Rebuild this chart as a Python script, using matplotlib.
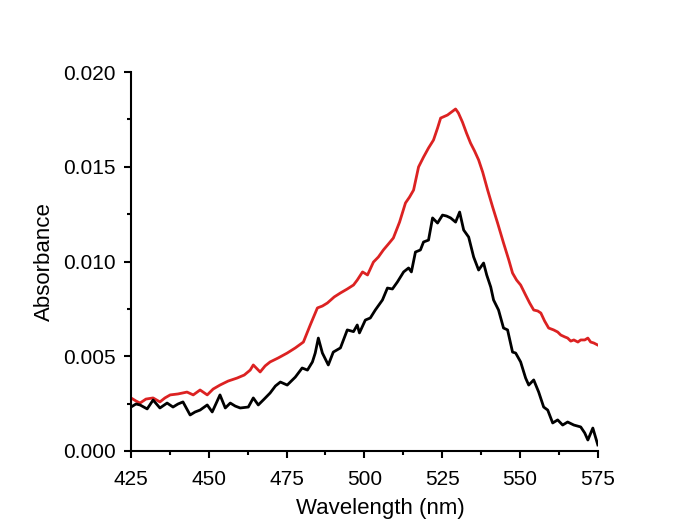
import matplotlib.pyplot as plt
from matplotlib.ticker import MultipleLocator

plt.rcParams['font.family'] = ['Liberation Sans', 'DejaVu Sans']

# red spectrum
red_nm = [425.0, 426.6, 427.9, 429.8, 432.1, 434.3, 435.9, 437.6, 440.1, 443.0,
          445.0, 447.2, 449.5, 451.4, 453.6, 456.2, 459.1, 461.4, 463.3, 464.3,
          466.5, 468.1, 469.7, 472.3, 475.2, 477.8, 480.4, 482.6, 484.9, 486.5,
          488.1, 490.3, 492.3, 494.5, 496.5, 497.7, 499.4, 501.0, 502.9, 504.5,
          506.1, 507.7, 509.3, 511.3, 513.2, 514.5, 515.8, 517.4, 519.0, 520.6,
          522.2, 523.5, 524.5, 526.7, 528.0, 529.3, 530.2, 531.5, 532.8, 534.1,
          535.4, 536.7, 538.0, 539.6, 541.2, 542.8, 544.7, 546.4, 547.6, 548.9,
          550.2, 551.8, 553.1, 554.4, 555.7, 556.7, 557.9, 559.2, 560.8, 562.1,
          563.1, 564.4, 565.3, 566.3, 567.3, 568.6, 569.5, 570.8, 571.8, 572.7,
          573.7, 575.0]
red_abs = [0.00280, 0.00264, 0.00253, 0.00274, 0.00280, 0.00259, 0.00280, 0.00296, 0.00301, 0.00311,
           0.00296, 0.00322, 0.00296, 0.00327, 0.00348, 0.00369, 0.00385, 0.00401, 0.00427, 0.00454,
           0.00417, 0.00449, 0.00470, 0.00491, 0.00517, 0.00544, 0.00575, 0.00665, 0.00755, 0.00765,
           0.00781, 0.00813, 0.00834, 0.00855, 0.00876, 0.00902, 0.00945, 0.00929, 0.00997, 0.01024,
           0.01061, 0.01092, 0.01124, 0.01208, 0.01309, 0.01340, 0.01377, 0.01499, 0.01551, 0.01599,
           0.01641, 0.01704, 0.01757, 0.01773, 0.01789, 0.01805, 0.01784, 0.01736, 0.01678, 0.01625,
           0.01583, 0.01536, 0.01472, 0.01377, 0.01288, 0.01203, 0.01098, 0.01008, 0.00939, 0.00902,
           0.00876, 0.00823, 0.00781, 0.00744, 0.00739, 0.00728, 0.00686, 0.00649, 0.00639, 0.00628,
           0.00612, 0.00602, 0.00596, 0.00580, 0.00586, 0.00575, 0.00586, 0.00586, 0.00596, 0.00575,
           0.00570, 0.00559]

# black spectrum
black_nm = [425.0, 426.6, 427.9, 430.2, 432.1, 434.3, 436.6, 438.5, 440.1, 441.7,
            444.0, 445.6, 447.2, 449.5, 451.1, 453.6, 455.3, 456.9, 458.5, 460.1,
            462.7, 464.3, 465.9, 467.8, 469.7, 471.4, 473.0, 475.2, 477.8, 480.0,
            481.7, 483.3, 484.2, 485.2, 486.5, 488.4, 490.0, 492.3, 494.5, 496.5,
            497.7, 498.4, 500.3, 501.9, 503.5, 505.8, 507.4, 509.0, 510.6, 512.6,
            514.2, 515.1, 516.4, 518.0, 519.0, 520.6, 521.9, 523.5, 525.1, 526.4,
            527.7, 529.3, 530.6, 531.9, 533.5, 535.1, 536.7, 538.3, 539.3, 540.6,
            541.5, 543.1, 544.7, 546.0, 547.6, 548.6, 550.2, 551.8, 552.8, 554.4,
            556.0, 557.6, 558.9, 560.5, 562.1, 563.7, 565.3, 567.3, 569.5, 570.8,
            571.8, 573.4, 575.0]
black_abs = [0.00232, 0.00248, 0.00243, 0.00222, 0.00269, 0.00227, 0.00253, 0.00232, 0.00248, 0.00259,
             0.00190, 0.00206, 0.00216, 0.00243, 0.00206, 0.00296, 0.00227, 0.00253, 0.00237, 0.00227,
             0.00232, 0.00280, 0.00243, 0.00274, 0.00306, 0.00343, 0.00364, 0.00348, 0.00390, 0.00438,
             0.00427, 0.00470, 0.00517, 0.00596, 0.00517, 0.00454, 0.00522, 0.00544, 0.00639, 0.00630,
             0.00665, 0.00623, 0.00691, 0.00702, 0.00744, 0.00797, 0.00860, 0.00855, 0.00892, 0.00945,
             0.00966, 0.00945, 0.01050, 0.01061, 0.01103, 0.01113, 0.01230, 0.01203, 0.01245, 0.01240,
             0.01230, 0.01208, 0.01261, 0.01166, 0.01129, 0.01024, 0.00955, 0.00992, 0.00929, 0.00865,
             0.00797, 0.00744, 0.00649, 0.00639, 0.00522, 0.00517, 0.00470, 0.00385, 0.00348, 0.00375,
             0.00311, 0.00232, 0.00216, 0.00148, 0.00164, 0.00137, 0.00153, 0.00137, 0.00127, 0.00095,
             0.00058, 0.00121, 0.00032]

fig = plt.figure(figsize=(6.84, 5.2), dpi=100)
ax = fig.add_axes([0.1915, 0.1327, 0.6825, 0.7288])

ax.plot(red_nm, red_abs, color='#dc2222', lw=2.0, solid_joinstyle='round')
ax.plot(black_nm, black_abs, color='black', lw=2.0, solid_joinstyle='round')

ax.set_xlim(425, 575)
ax.set_ylim(0, 0.020)
ax.xaxis.set_major_locator(MultipleLocator(25))
ax.xaxis.set_minor_locator(MultipleLocator(12.5))
ax.yaxis.set_major_locator(MultipleLocator(0.005))
ax.yaxis.set_minor_locator(MultipleLocator(0.0025))
ax.yaxis.set_major_formatter(plt.FormatStrFormatter('%.3f'))

for side in ['top', 'right']:
    ax.spines[side].set_visible(False)
for side in ['left', 'bottom']:
    ax.spines[side].set_linewidth(1.5)

ax.tick_params(which='major', direction='out', length=5, width=1.5, labelsize=15, pad=6)
ax.tick_params(axis='x', which='major', pad=9)
ax.tick_params(which='minor', direction='out', length=3, width=1.5)

ax.set_xlabel("Wavelength (nm)", fontsize=16, labelpad=6)
ax.xaxis.label.set_x(0.535)
ax.set_ylabel("Absorbance", fontsize=16, labelpad=6)

fig.savefig("out.png", dpi=100)
